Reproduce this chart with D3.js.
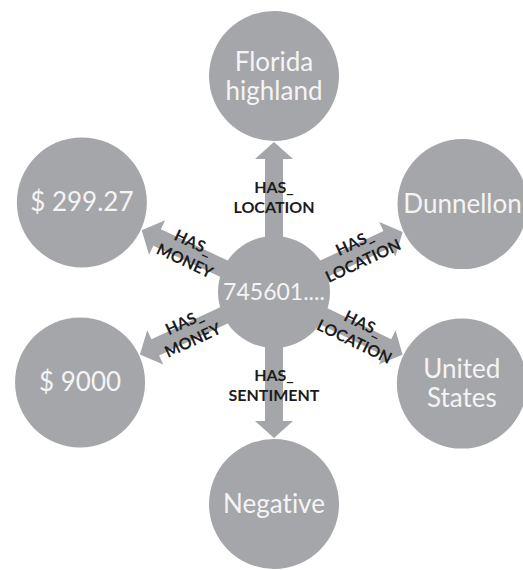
<!DOCTYPE html>
<html>
<head>
<meta charset="utf-8">
<script src="https://cdn.jsdelivr.net/npm/d3@7"></script>
<style>
  html, body { margin: 0; padding: 0; background: #ffffff; }
  svg { display: block; }
  text { font-variant-ligatures: none; font-feature-settings: "liga" 0, "clig" 0; }
</style>
</head>
<body>
<div id="chart"></div>
<script>
// ---- data ----
const centerLabel = ["745601...."];
const targetLabels = [
  ["Florida", "highland"],
  ["Dunnellon"],
  ["United", "States"],
  ["Negative"],
  ["$ 9000"],
  ["$ 299.27"]
];
const relationLabels = [
  ["HAS_", "LOCATION"],
  ["HAS_", "LOCATION"],
  ["HAS_", "LOCATION"],
  ["HAS_", "SENTIMENT"],
  ["HAS_", "MONEY"],
  ["HAS_", "MONEY"]
];

// ---- layout (radial) ----
const W = 523, H = 570;
const cx = 274, cy = 292;
const centerR = 56, nodeR = 65;
const angles = [-90, -25, 26, 90, 155, 205];
const dists = [216, 208, 209, 212, 214, 212];
const shaftHalf = 9, headHalf = 19, headLen = 17;
const labelDist = 94;
const fill = "#a5a6a9";
const nodeFont = "Lato, 'Open Sans', sans-serif";

const svg = d3.select("#chart").append("svg")
  .attr("width", W).attr("height", H);

const rad = d => d * Math.PI / 180;
const nodes = targetLabels.map((lines, i) => ({
  lines,
  rel: relationLabels[i],
  angle: angles[i],
  dist: dists[i],
  x: cx + dists[i] * Math.cos(rad(angles[i])),
  y: cy + dists[i] * Math.sin(rad(angles[i]))
}));

// arrows
const arrowPath = L => {
  const s = L - headLen;
  const p = d3.path();
  p.moveTo(0, -shaftHalf);
  p.lineTo(s, -shaftHalf);
  p.lineTo(s, -headHalf);
  p.lineTo(L, 0);
  p.lineTo(s, headHalf);
  p.lineTo(s, shaftHalf);
  p.lineTo(0, shaftHalf);
  p.closePath();
  return p.toString();
};

svg.append("g").selectAll("path")
  .data(nodes)
  .join("path")
  .attr("transform", d => `translate(${cx},${cy}) rotate(${d.angle})`)
  .attr("d", d => arrowPath(d.dist - nodeR - 1))
  .attr("fill", fill);

// center node
svg.append("circle")
  .attr("cx", cx).attr("cy", cy).attr("r", centerR)
  .attr("fill", fill);
svg.append("text")
  .attr("x", cx).attr("y", cy + 8)
  .attr("text-anchor", "middle")
  .attr("font-family", nodeFont)
  .attr("font-size", 23)
  .attr("fill", "#f4f4f4")
  .text(centerLabel[0]);

// target nodes
const g = svg.append("g").selectAll("g")
  .data(nodes)
  .join("g")
  .attr("transform", d => `translate(${d.x},${d.y})`);
g.append("circle").attr("r", nodeR).attr("fill", fill);
g.append("text")
  .attr("text-anchor", "middle")
  .attr("font-family", nodeFont)
  .attr("font-size", 26)
  .attr("fill", "#f4f4f4")
  .selectAll("tspan")
  .data(d => d.lines.map((t, k) => ({ t, k, n: d.lines.length })))
  .join("tspan")
  .attr("x", 0)
  .attr("y", e => 9 + (e.k - (e.n - 1) / 2) * 29)
  .text(e => e.t);

// relation labels
const lab = svg.append("g").selectAll("text")
  .data(nodes)
  .join("text")
  .attr("transform", d => {
    const x = cx + labelDist * Math.cos(rad(d.angle));
    const y = cy + labelDist * Math.sin(rad(d.angle));
    let rot = d.angle;
    if (Math.abs(d.angle) === 90) rot = 0;
    else if (Math.cos(rad(d.angle)) < 0) rot = d.angle - 180;
    return `translate(${x},${y}) rotate(${rot})`;
  })
  .attr("text-anchor", "middle")
  .attr("font-family", "Lato, 'Open Sans', sans-serif")
  .attr("font-weight", "bold")
  .attr("font-size", 16)
  .attr("fill", "#1c1c1c");
lab.selectAll("tspan")
  .data(d => d.rel.map((t, k) => ({ t, k })))
  .join("tspan")
  .attr("x", 0)
  .attr("y", e => (e.k === 0 ? -10 : 10) + 5)
  .text(e => e.t);
</script>
</body>
</html>
